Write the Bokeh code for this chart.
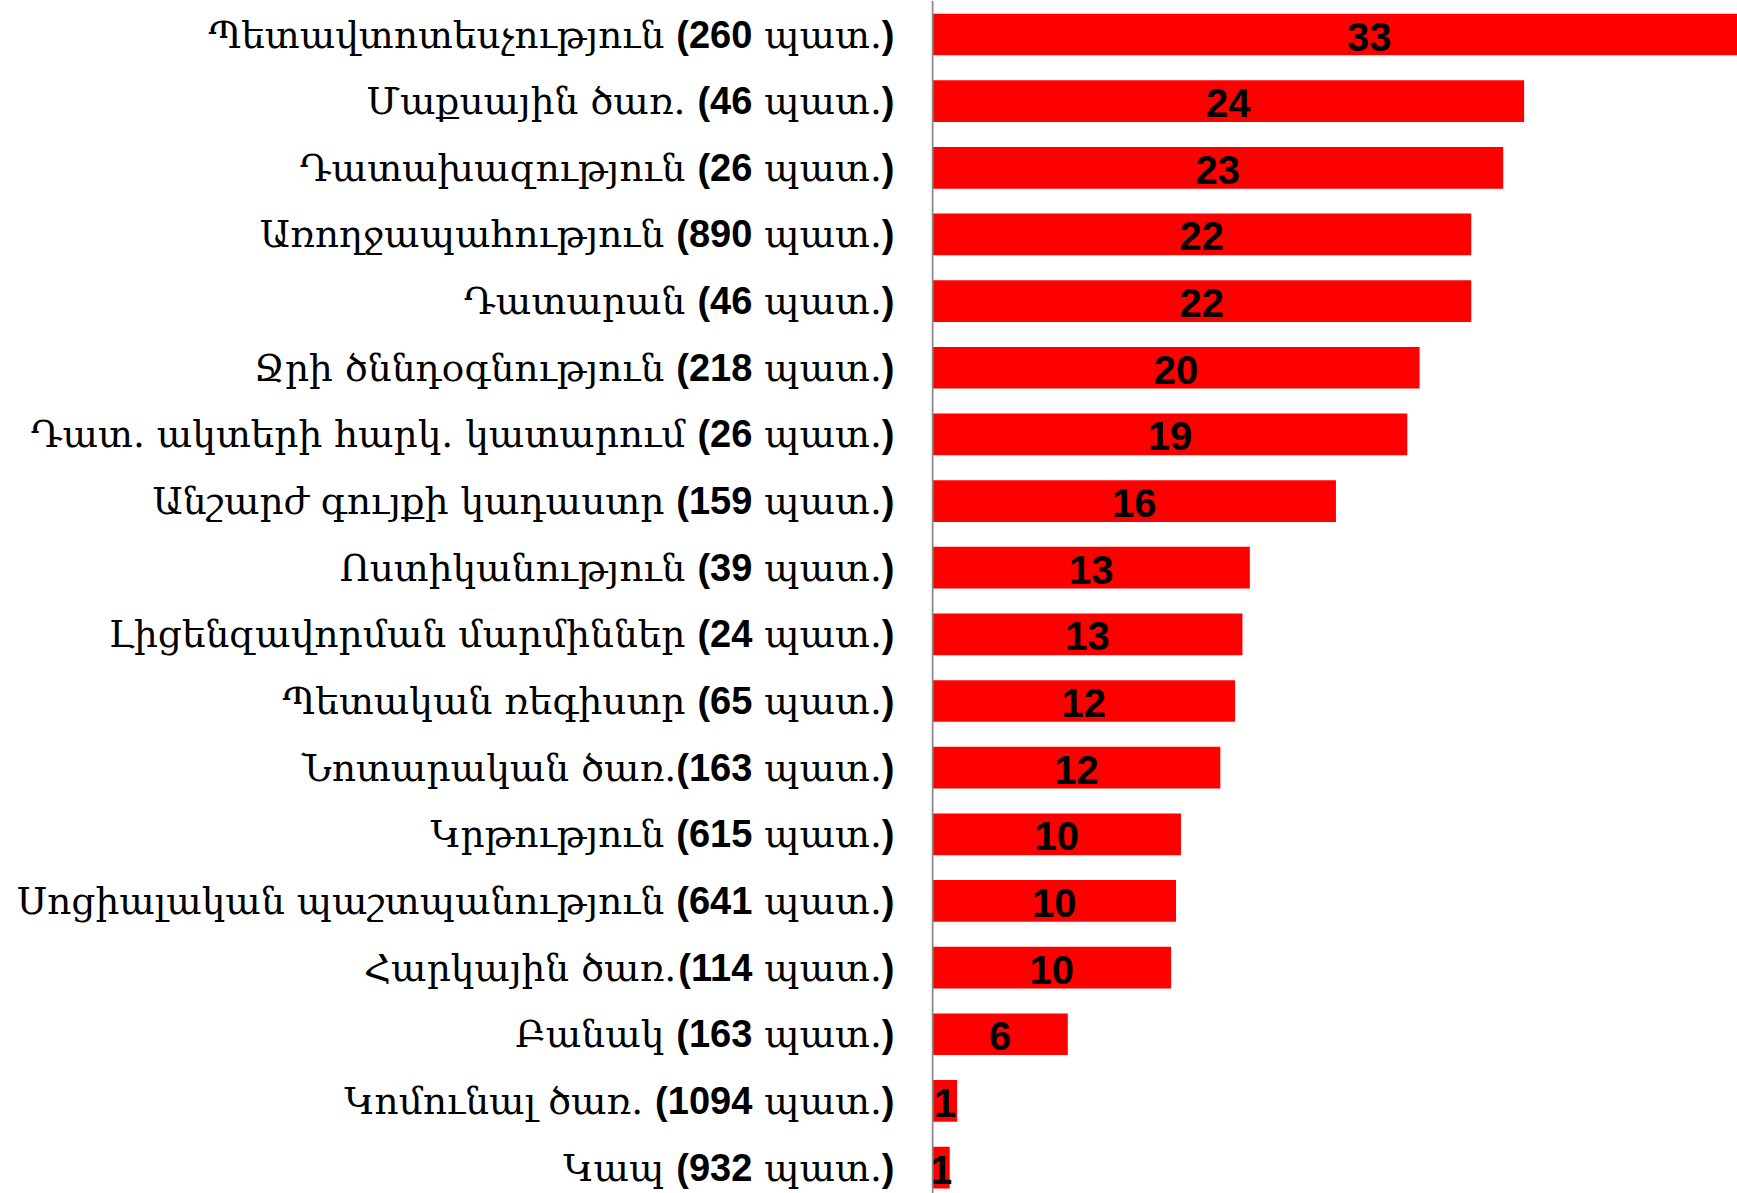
import os
import re
import struct

from bokeh.plotting import figure
from bokeh.layouts import row
from bokeh.models import ColumnDataSource, Range1d, Span
from bokeh.core.properties import value
from bokeh.embed import file_html
from bokeh.resources import INLINE

# ---------------- data ----------------
labels = [
    "Պետավտոտեսչություն (260 պատ.)",
    "Մաքսային ծառ. (46 պատ.)",
    "Դատախազություն (26 պատ.)",
    "Առողջապահություն (890 պատ.)",
    "Դատարան (46 պատ.)",
    "Ջրի ծննդօգնություն (218 պատ.)",
    "Դատ. ակտերի  հարկ. կատարում (26 պատ.)",
    "Անշարժ գույքի կադաստր (159 պատ.)",
    "Ոստիկանություն (39 պատ.)",
    "Լիցենզավորման մարմիններ (24 պատ.)",
    "Պետական ռեգիստր (65 պատ.)",
    "Նոտարական ծառ.(163 պատ.)",
    "Կրթություն (615 պատ.)",
    "Սոցիալական պաշտպանություն (641  պատ.)",
    "Հարկային ծառ.(114 պատ.)",
    "Բանակ (163 պատ.)",
    "Կոմունալ ծառ. (1094 պատ.)",
    "Կապ (932 պատ.)",
]
values = [35.5, 24.05, 23.2, 21.9, 21.9, 19.8, 19.3, 16.4, 12.9, 12.6,
          12.3, 11.7, 10.1, 9.9, 9.7, 5.5, 1.0, 0.7]
value_labels = ["33", "24", "23", "22", "22", "20", "19", "16", "13", "13",
                "12", "12", "10", "10", "10", "6", "1", "1"]

# ---------------- styling ----------------
W, H = 1737, 1193
AXIS_X = 932          # page x of the value axis
PX_PER_UNIT = 24.6
ROW_PITCH = 66.65
FIRST_ROW = 34.0
ARM_SIZE = 37.5
NUM_SIZE = 38
VAL_SIZE = 40
BAR_RED = "#FF0000"
SANS = "Liberation Sans"


# ---------------- font metrics (for composing mixed-font labels) ----------------
def find_font(names):
    roots = ["/usr/share/fonts", "/usr/local/share/fonts",
             os.path.expanduser("~/.fonts"), os.path.expanduser("~/.local/share/fonts")]
    for root in roots:
        if not os.path.isdir(root):
            continue
        for d, _, files in os.walk(root):
            for n in names:
                if n in files:
                    return os.path.join(d, n)
    return None


class Metrics:
    def __init__(self, path):
        data = open(path, "rb").read()
        self.data = data
        n = struct.unpack(">H", data[4:6])[0]
        t = {}
        for i in range(n):
            tag, _, off, ln = struct.unpack(">4sIII", data[12 + 16 * i:28 + 16 * i])
            t[tag.decode("latin1")] = off
        self.upem = struct.unpack(">H", data[t["head"] + 18:t["head"] + 20])[0]
        nhm = struct.unpack(">H", data[t["hhea"] + 34:t["hhea"] + 36])[0]
        h = t["hmtx"]
        self.adv = [struct.unpack(">H", data[h + 4 * i:h + 4 * i + 2])[0] for i in range(nhm)]
        c = t["cmap"]
        nsub = struct.unpack(">H", data[c + 2:c + 4])[0]
        self.sub = None
        for i in range(nsub):
            pid, eid, off = struct.unpack(">HHI", data[c + 4 + 8 * i:c + 12 + 8 * i])
            fmt = struct.unpack(">H", data[c + off:c + off + 2])[0]
            if fmt == 4 and (pid, eid) in ((3, 1), (0, 3), (0, 4), (0, 1)):
                self.sub = c + off
                break
        s = self.sub
        segx2 = struct.unpack(">H", data[s + 6:s + 8])[0]
        self.seg = segx2 // 2
        self.ends = s + 14
        self.starts = s + 16 + segx2
        self.deltas = s + 16 + 2 * segx2
        self.ranges = s + 16 + 3 * segx2

    def u16(self, p):
        return struct.unpack(">H", self.data[p:p + 2])[0]

    def gid(self, ch):
        c = ord(ch)
        for i in range(self.seg):
            end = self.u16(self.ends + 2 * i)
            if end >= c:
                start = self.u16(self.starts + 2 * i)
                if start > c:
                    return 0
                delta = self.u16(self.deltas + 2 * i)
                ro = self.u16(self.ranges + 2 * i)
                if ro == 0:
                    return (c + delta) & 0xFFFF
                g = self.u16(self.ranges + 2 * i + ro + 2 * (c - start))
                return (g + delta) & 0xFFFF if g else 0
        return 0

    def width(self, text, size):
        w = 0
        for ch in text:
            g = self.gid(ch)
            w += self.adv[min(g, len(self.adv) - 1)]
        return w * size / self.upem


def safe_metrics(fname):
    p = find_font([fname])
    if not p:
        return None
    try:
        return Metrics(p)
    except Exception:
        return None


arm_font = "DejaVu Serif"
arm_m = safe_metrics("DejaVuSerif.ttf")
if arm_m is None or arm_m.gid("ա") == 0:
    alt = safe_metrics("DejaVuSans.ttf")
    if alt is not None and alt.gid("ա") != 0:
        arm_m, arm_font = alt, "DejaVu Sans"
bold_m = safe_metrics("LiberationSans-Bold.ttf")


def w_arm(t):
    if arm_m is not None:
        return arm_m.width(t, ARM_SIZE)
    return sum((0.32 if ch == " " else 0.30 if ch == "." else 0.66) for ch in t) * ARM_SIZE


def w_bold(t):
    if bold_m is not None:
        return bold_m.width(t, NUM_SIZE)
    return sum((0.333 if ch in "()" else 0.278 if ch == " " else 0.556) for ch in t) * NUM_SIZE


# ---------------- compose label pieces ----------------
pat = re.compile(r"^(.*?)(\s*)\((\d+)\s+(\S+)\)$")
names, nums, pats, gaps = [], [], [], []
for lab in labels:
    m = pat.match(lab)
    names.append(re.sub(r"\s+", " ", m.group(1)))
    nums.append("(" + m.group(3))
    pats.append(m.group(4))
    gaps.append(len(m.group(2)) > 0)

ANCHOR = AXIS_X - 38.0
x_close, x_pat, x_num, x_name = [], [], [], []
for nm, nu, pa, gp in zip(names, nums, pats, gaps):
    a = ANCHOR
    x_close.append(a)
    a -= w_bold(")")
    x_pat.append(a)
    a -= w_arm(pa) + w_arm(" ")
    x_num.append(a)
    a -= w_bold(nu) + (w_arm(" ") if gp else 0)
    x_name.append(a)

n = len(labels)
ys = list(range(n))
src = ColumnDataSource(dict(
    y=ys, value=values, mid=[v / 2 for v in values], vlab=value_labels,
    name=names, num=nums, pat=pats, close=[")"] * n,
    x_close=x_close, x_pat=x_pat, x_num=x_num, x_name=x_name,
))

y_range = Range1d((H - FIRST_ROW) / ROW_PITCH, -FIRST_ROW / ROW_PITCH)


def bare(fig):
    fig.outline_line_color = None
    fig.background_fill_color = "white"
    fig.border_fill_color = "white"
    fig.xgrid.visible = False
    fig.ygrid.visible = False
    fig.xaxis.visible = False
    fig.yaxis.visible = False
    return fig


# ---- left: category labels ----
LW = AXIS_X - 1
lp = bare(figure(width=LW, height=H, x_range=Range1d(0, LW), y_range=y_range,
                 output_backend="svg", toolbar_location=None,
                 min_border_left=0, min_border_right=0, min_border_top=0, min_border_bottom=0))
common = dict(y="y", source=src, text_align="right", text_baseline="alphabetic",
              y_offset=0, text_color="black")
lp.text(x="x_name", text="name", text_font=value(arm_font),
        text_font_size=f"{ARM_SIZE}px", **common)
lp.text(x="x_num", text="num", text_font=value(SANS), text_font_style="bold",
        text_font_size=f"{NUM_SIZE}px", **common)
lp.text(x="x_pat", text="pat", text_font=value(arm_font),
        text_font_size=f"{ARM_SIZE}px", **common)
lp.text(x="x_close", text="close", text_font=value(SANS), text_font_style="bold",
        text_font_size=f"{NUM_SIZE}px", **common)

# ---- right: bars ----
RW = W - LW
p = bare(figure(width=RW, height=H,
                x_range=Range1d(-(AXIS_X - LW) / PX_PER_UNIT, (W - AXIS_X) / PX_PER_UNIT),
                y_range=y_range, output_backend="svg", toolbar_location=None,
                min_border_left=0, min_border_right=0, min_border_top=0, min_border_bottom=0))
p.hbar(y="y", left=0, right="value", height=0.625, source=src,
       fill_color=BAR_RED, line_color=None)
p.add_layout(Span(location=0, dimension="height", line_color="#898989", line_width=2))
p.text(x="mid", y="y", text="vlab", source=src, text_align="center",
       text_baseline="alphabetic", y_offset=2, text_font=value(SANS),
       text_font_style="bold", text_font_size=f"{VAL_SIZE}px", text_color="black")

layout = row(lp, p, spacing=0)
open("out.html", "w").write(file_html(layout, INLINE))
